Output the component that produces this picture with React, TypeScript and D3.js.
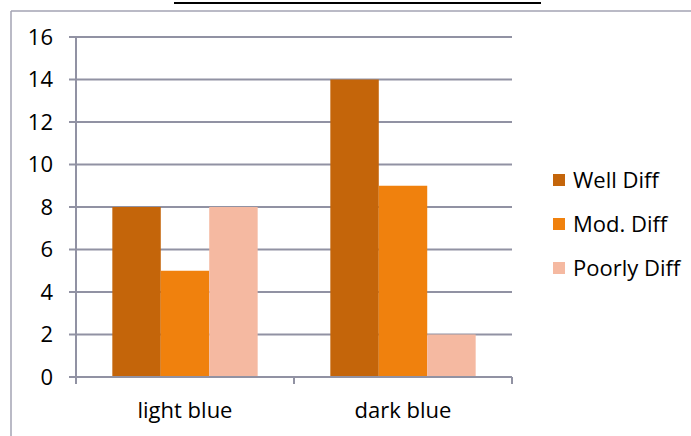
import React from "react";
import * as d3 from "d3";

const categories = ["light blue", "dark blue"];
const seriesNames = ["Well Diff", "Mod. Diff", "Poorly Diff"];
const wellDiff = [8, 14];
const modDiff = [5, 9];
const poorlyDiff = [8, 2];
const yTicks = [0, 2, 4, 6, 8, 10, 12, 14, 16];
const colors = ["#C4650A", "#F0810D", "#F5B9A1"];

const W = 691;
const H = 436;
const plot = { left: 76, right: 512, top: 37, bottom: 377 };
const FONT = "'Open Sans', Lato, sans-serif";
const FS = 22;
const GRID = "#9192a3";

export default function App() {
  const series = [wellDiff, modDiff, poorlyDiff];
  const y = d3.scaleLinear().domain([0, 16]).range([plot.bottom, plot.top]);
  const x0 = d3
    .scaleBand<string>()
    .domain(categories)
    .range([plot.left, plot.right])
    .paddingInner(0)
    .paddingOuter(0);
  // gap between groups equals 1.5 bar widths
  const groupW = x0.bandwidth();
  const barW = groupW / (seriesNames.length + 1.5);
  const x1 = d3
    .scaleBand<string>()
    .domain(seriesNames)
    .range([0.75 * barW, 0.75 * barW + 3 * barW]);

  return (
    <svg
      width={W}
      height={H}
      style={{ position: "absolute", left: 0, top: 0, background: "#fff" }}
    >
      {/* document underline above the chart frame */}
      <line x1={174} x2={541} y1={3} y2={3} stroke="#000" strokeWidth={2} />
      {/* chart frame */}
      <line x1={11} x2={W} y1={11} y2={11} stroke="#a3a3b3" strokeWidth={1.5} />
      <line x1={11} x2={11} y1={11} y2={H} stroke="#a3a3b3" strokeWidth={1.5} />

      {/* gridlines + y ticks */}
      {yTicks.map((t) => (
        <g key={t}>
          {t > 0 && (
            <line
              x1={plot.left}
              x2={plot.right}
              y1={y(t)}
              y2={y(t)}
              stroke={GRID}
              strokeWidth={2}
            />
          )}
          <line x1={plot.left - 7} x2={plot.left} y1={y(t)} y2={y(t)} stroke={GRID} strokeWidth={2} />
          <text
            x={53}
            y={y(t)}
            dy="0.36em"
            textAnchor="end"
            fontFamily={FONT}
            fontSize={FS}
            fill="#000"
          >
            {t}
          </text>
        </g>
      ))}

      {/* bars */}
      {categories.map((c, ci) => (
        <g key={c} transform={`translate(${x0(c)},0)`}>
          {seriesNames.map((s, si) => (
            <rect
              key={s}
              x={x1(s)}
              y={y(series[si][ci])}
              width={x1.bandwidth()}
              height={y(0) - y(series[si][ci])}
              fill={colors[si]}
            />
          ))}
        </g>
      ))}

      {/* axes */}
      <line x1={plot.left} x2={plot.left} y1={plot.top} y2={plot.bottom} stroke={GRID} strokeWidth={2} />
      <line x1={plot.left} x2={plot.right} y1={plot.bottom} y2={plot.bottom} stroke={GRID} strokeWidth={2} />
      {[plot.left, ...categories.map((c) => (x0(c) as number) + groupW)].map((tx, i) => (
        <line key={i} x1={tx} x2={tx} y1={plot.bottom} y2={plot.bottom + 7} stroke={GRID} strokeWidth={2} />
      ))}
      {categories.map((c) => (
        <text
          key={c}
          x={(x0(c) as number) + groupW / 2}
          y={418}
          textAnchor="middle"
          fontFamily={FONT}
          fontSize={FS}
          fill="#000"
        >
          {c}
        </text>
      ))}

      {/* legend */}
      {seriesNames.map((s, i) => {
        const cy = 180 + i * 44;
        return (
          <g key={s}>
            <rect x={553} y={cy - 6} width={12} height={12} fill={colors[i]} />
            <text x={573} y={cy} dy="0.36em" fontFamily={FONT} fontSize={FS} fill="#000">
              {s}
            </text>
          </g>
        );
      })}
    </svg>
  );
}
